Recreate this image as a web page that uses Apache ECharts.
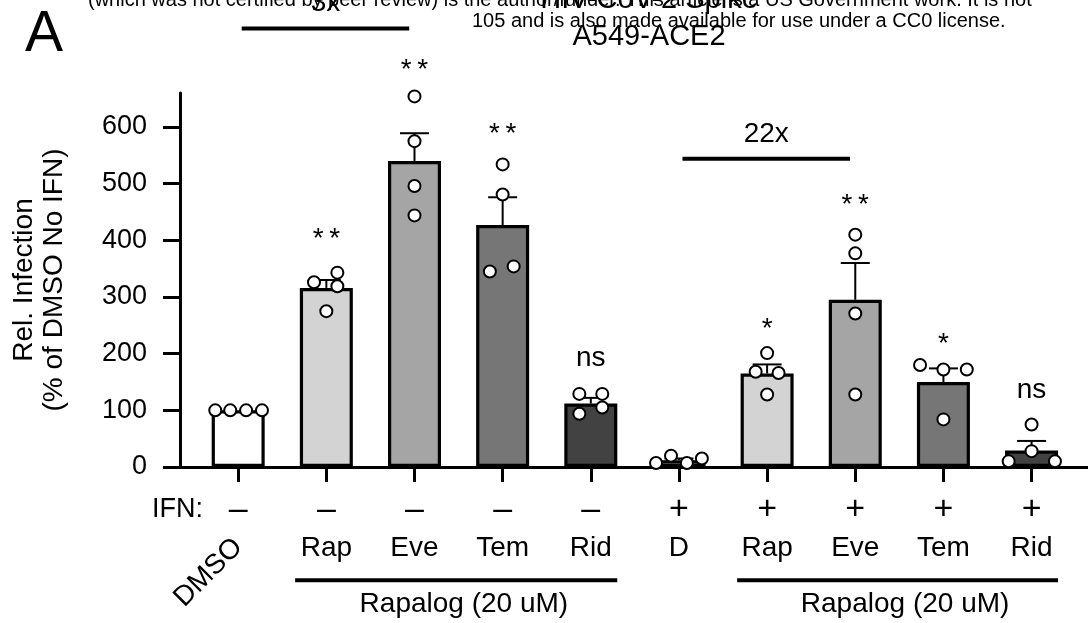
<!DOCTYPE html>
<html><head><meta charset="utf-8">
<script src="https://cdn.jsdelivr.net/npm/echarts@6/dist/echarts.min.js"></script>
<style>html,body{margin:0;padding:0;background:#fff;}#c{width:1088px;height:623px;}</style>
</head><body><div id="c"></div>
<script>
// ---- data ----
const categories = ['DMSO','Rap','Eve','Tem','Rid','D','Rap','Eve','Tem','Rid'];
const ifnLabels  = ['–','–','–','–','–','+','+','+','+','+'];
const barMeans   = [100, 316, 540, 427, 112, 12, 165, 295, 150, 29];
const errTops    = [100, 330, 589, 476, 122, 15, 181, 360, 174, 46];
const barColors  = ['#ffffff','#d3d3d3','#a5a5a5','#767676','#424242','#ffffff','#d3d3d3','#a5a5a5','#767676','#424242'];
const dotValues = [
  [100,100,100,100],
  [326,343,319,275],
  [654,575,496,444],
  [534,481,345,354],
  [129,129,94,105],
  [7,20,7,15],
  [201,168,166,128],
  [410,377,271,128],
  [180,172,172,84],
  [75,28,10,10]
];
const dotJitter = [
  [-0.26,-0.09,0.09,0.27],
  [-0.14,0.125,0.125,0],
  [0,0,0,0],
  [0,0,-0.145,0.125],
  [-0.13,0.13,-0.13,0.13],
  [-0.26,-0.09,0.09,0.26],
  [0,-0.13,0.13,0],
  [0,0,0,0],
  [-0.265,0,0.265,0],
  [0,0,-0.26,0.265]
];
const sigText = ['', '**','**','**','ns','', '*','**','*','ns'];
const sigY    = [null, 412, 711, 597, 188, null, 253, 472, 228, 131];
const foldLabels = ['3x','22x'];
const foldFrom   = [0.04, 5.04];
const foldTo     = [1.94, 6.94];
const foldLineY  = [774, 544];
const foldTextY  = [818, 588];
const groupLabel = 'Rapalog (20 uM)';
const groupFrom  = [0.646, 5.66];
const groupTo    = [4.30, 9.30];
const groupTextX = [2.56, 7.565];
const groupLineY = -200;
const groupTextY = -243;
const yTicks = [0,100,200,300,400,500,600];

// ---- chart ----
const FONT = '"Liberation Sans", Arial, Helvetica, sans-serif';
const chart = echarts.init(document.getElementById('c'));
const tickIdx = categories.map((_, i) => i);
const xMin = -0.66, xMax = 9.64;
const baseX = {type:'value', min:xMin, max:xMax, gridIndex:0, position:'bottom', splitLine:{show:false}};
const txt = {color:'#000', fontFamily:FONT};

const dots = [];
dotValues.forEach((arr, i) => arr.forEach((v, j) => dots.push([i + dotJitter[i][j], v])));
const errData = [];
barMeans.forEach((m, i) => { if (errTops[i] > m) errData.push([i, m, errTops[i]]); });
const sigList = [];
sigText.forEach((t, i) => { if (t) sigList.push({i, t, y: sigY[i]}); });

const option = {
  animation: false,
  backgroundColor: '#fff',
  grid: {left:180, right:0, top:93, bottom:156, containLabel:false, outerBoundsMode:'none'},
  xAxis: [
    Object.assign({}, baseX, {
      axisLine:{show:true, onZero:false, lineStyle:{color:'#000', width:3}},
      axisTick:{show:true, customValues:tickIdx, length:15, lineStyle:{color:'#000', width:3}},
      axisLabel:Object.assign({show:true, customValues:[0], formatter:v => categories[Math.round(v)], rotate:45, margin:76, fontSize:28}, txt)
    }),
    Object.assign({}, baseX, {
      offset:43,
      axisLine:{show:false, onZero:false}, axisTick:{show:false},
      axisLabel:Object.assign({show:true, customValues:tickIdx, formatter:v => ifnLabels[Math.round(v)], margin:0, verticalAlign:'middle', fontSize:34}, txt),
      name:'IFN:', nameLocation:'start', nameGap:-23,
      nameTextStyle:Object.assign({fontSize:27}, txt)
    }),
    Object.assign({}, baseX, {
      offset:81,
      axisLine:{show:false, onZero:false}, axisTick:{show:false},
      axisLabel:Object.assign({show:true, customValues:tickIdx.slice(1), formatter:v => categories[Math.round(v)], margin:0, verticalAlign:'middle', fontSize:28}, txt)
    })
  ],
  yAxis: {
    type:'value', min:0, max:660,
    axisLine:{show:true, onZero:false, lineStyle:{color:'#000', width:3}},
    axisTick:{show:true, customValues:yTicks, length:17, lineStyle:{color:'#000', width:3}},
    axisLabel:Object.assign({customValues:yTicks, margin:33, fontSize:27}, txt),
    splitLine:{show:false},
    name:'Rel. Infection\n(% of DMSO No IFN)', nameLocation:'middle', nameGap:111,
    nameTextStyle:Object.assign({fontSize:28, lineHeight:30}, txt)
  },
  series: [
    {
      type:'bar', xAxisIndex:0, yAxisIndex:0, barWidth:53, z:2, silent:true,
      itemStyle:{borderColor:'#000', borderWidth:3.2},
      data: barMeans.map((v, i) => ({value:[i, v], itemStyle:{color:barColors[i]}}))
    },
    {
      type:'custom', xAxisIndex:0, yAxisIndex:0, z:3, clip:false, silent:true,
      encode:{x:0, y:[1,2]},
      data: errData,
      renderItem: (params, api) => {
        const x = api.value(0), lo = api.value(1), hi = api.value(2);
        const p0 = api.coord([x, lo]), p1 = api.coord([x, hi]);
        return {type:'group', children:[
          {type:'line', shape:{x1:p0[0], y1:p0[1], x2:p1[0], y2:p1[1]}, style:{stroke:'#000', lineWidth:2}},
          {type:'line', shape:{x1:p1[0]-14.5, y1:p1[1], x2:p1[0]+14.5, y2:p1[1]}, style:{stroke:'#000', lineWidth:2}}
        ]};
      }
    },
    {
      type:'scatter', xAxisIndex:0, yAxisIndex:0, z:4, silent:true,
      symbol:'circle', symbolSize:12,
      itemStyle:{color:'#fff', borderColor:'#000', borderWidth:2, opacity:1},
      data: dots
    },
    {
      type:'custom', xAxisIndex:0, yAxisIndex:0, z:5, clip:false, silent:true,
      encode:{x:0, y:1},
      data: sigList.map(s => [s.i, s.y]),
      renderItem: (params, api) => {
        const s = sigList[params.dataIndex];
        const p = api.coord([api.value(0), api.value(1)]);
        const star = s.t.indexOf('*') >= 0;
        const label = star ? s.t.split('').join('\u2009') : s.t;
        return {type:'text', style:{text:label, x:p[0], y:p[1] + (star ? 6 : -2), fill:'#000', fontSize:28, fontFamily:FONT, align:'center', verticalAlign:'middle'}};
      }
    },
    {
      type:'custom', xAxisIndex:0, yAxisIndex:0, z:5, clip:false, silent:true,
      encode:{x:[0,1], y:[2,3]},
      data: foldLabels.map((l, k) => [foldFrom[k], foldTo[k], foldLineY[k], foldTextY[k]]),
      renderItem: (params, api) => {
        const a = api.coord([api.value(0), api.value(2)]);
        const b = api.coord([api.value(1), api.value(2)]);
        const t = api.coord([(api.value(0) + api.value(1)) / 2, api.value(3)]);
        return {type:'group', children:[
          {type:'line', shape:{x1:a[0], y1:a[1], x2:b[0], y2:b[1]}, style:{stroke:'#000', lineWidth:4}},
          {type:'text', style:{text:foldLabels[params.dataIndex], x:t[0], y:t[1], fill:'#000', fontSize:28, fontFamily:FONT, align:'center', verticalAlign:'middle'}}
        ]};
      }
    },
    {
      type:'custom', xAxisIndex:0, yAxisIndex:0, z:5, clip:false, silent:true,
      encode:{x:[0,1], y:2},
      data: groupFrom.map((f, k) => [f, groupTo[k], groupLineY, groupTextX[k], groupTextY]),
      renderItem: (params, api) => {
        const a = api.coord([api.value(0), api.value(2)]);
        const b = api.coord([api.value(1), api.value(2)]);
        const t = api.coord([api.value(3), api.value(4)]);
        return {type:'group', children:[
          {type:'line', shape:{x1:a[0], y1:a[1], x2:b[0], y2:b[1]}, style:{stroke:'#000', lineWidth:4}},
          {type:'text', style:{text:groupLabel, x:t[0], y:t[1], fill:'#000', fontSize:28, fontFamily:FONT, align:'center', verticalAlign:'middle'}}
        ]};
      }
    }
  ],
  graphic: [
    {type:'text', x:25, y:35, style:{text:'A', fill:'#000', fontSize:57, fontFamily:FONT, align:'left', verticalAlign:'middle'}},
    {type:'text', x:88, y:0, style:{text:'(which was not certified by peer review) is the author/funder. This article is a US Government work. It is not', fill:'#000', fontSize:20, fontFamily:FONT, align:'left', verticalAlign:'middle'}},
    {type:'text', x:649, y:0, style:{text:'HIV-CoV-2 Spike', fill:'#000', fontSize:29, fontFamily:FONT, align:'center', verticalAlign:'middle'}},
    {type:'text', x:472, y:21, style:{text:'105 and is also made available for use under a CC0 license.', fill:'#000', fontSize:20, fontFamily:FONT, align:'left', verticalAlign:'middle'}},
    {type:'text', x:649, y:37, style:{text:'A549-ACE2', fill:'#000', fontSize:29, fontFamily:FONT, align:'center', verticalAlign:'middle'}}
  ]
};
chart.setOption(option);
</script>
</body></html>
